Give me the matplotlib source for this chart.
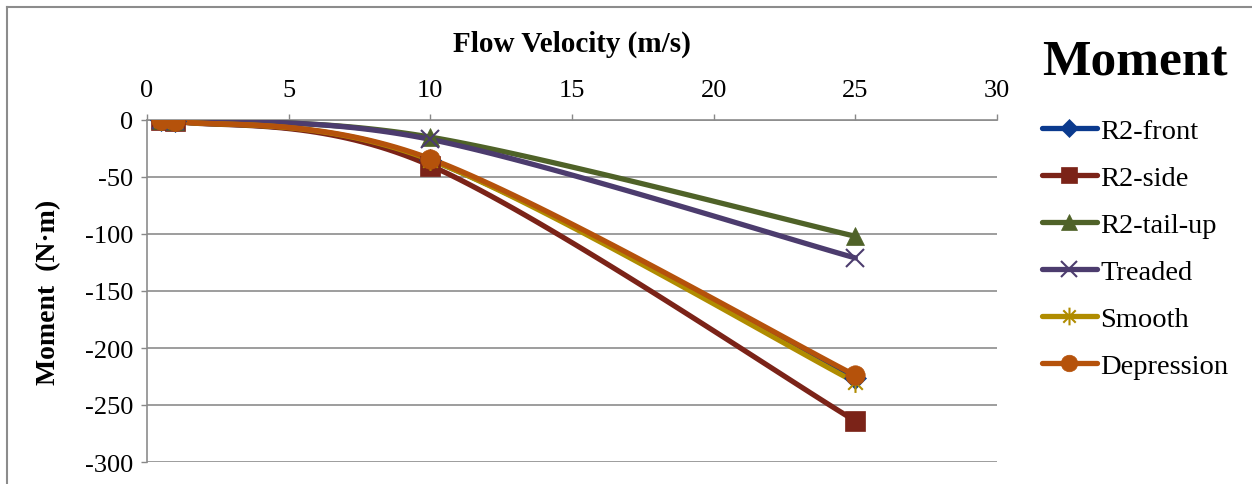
import numpy as np
import matplotlib
matplotlib.use('Agg')
from matplotlib import pyplot as plt
from matplotlib.lines import Line2D
from matplotlib.path import Path

# data
velocity = [0.5, 1, 10, 25]
r2_front = [-0.3, -1, -35, -226]
r2_side = [-0.3, -1, -40, -264]
r2_tail_up = [-0.2, -0.5, -15, -102]
treaded = [-0.2, -0.5, -17, -121]
smooth = [-0.3, -1, -35, -230]
depression = [-0.3, -1, -34, -224]

names = ['R2-front', 'R2-side', 'R2-tail-up', 'Treaded', 'Smooth', 'Depression']
series = [r2_front, r2_side, r2_tail_up, treaded, smooth, depression]
colors = ['#0b3a8e', '#7b2318', '#4f6228', '#4c3c6e', '#b08c00', '#b5520b']

# excel style star: vertical bar plus an x
star = Path([(0, -1), (0, 1), (-0.7, -0.7), (0.7, 0.7), (-0.7, 0.7), (0.7, -0.7)],
            [Path.MOVETO, Path.LINETO, Path.MOVETO, Path.LINETO, Path.MOVETO, Path.LINETO])
markers = ['D', 's', '^', 'x', star, 'o']
msizes = [11, 14, 13, 13, 15, 14]

plt.rcParams['font.family'] = ['Liberation Serif', 'DejaVu Serif']
plt.rcParams['axes.unicode_minus'] = False


def excel_smooth(x, y, n=40):
    # bezier smoothing like the "smoothed line" option in Excel
    p = np.column_stack([x, y]).astype(float)
    ext = np.vstack([p[0], p, p[-1]])
    out = []
    for i in range(len(p) - 1):
        p0, p1, p2, p3 = ext[i], ext[i + 1], ext[i + 2], ext[i + 3]
        c1 = p1 + (p2 - p0) / 6.0
        c2 = p2 - (p3 - p1) / 6.0
        c1[0] = np.clip(c1[0], p1[0], p2[0])
        c2[0] = np.clip(c2[0], p1[0], p2[0])
        t = np.linspace(0, 1, n)[:, None]
        seg = (1 - t) ** 3 * p1 + 3 * (1 - t) ** 2 * t * c1 + 3 * (1 - t) * t ** 2 * c2 + t ** 3 * p2
        out.append(seg)
    out = np.vstack(out)
    return out[:, 0], out[:, 1]


fig = plt.figure(figsize=(12.52, 4.85), dpi=100)
ax = fig.add_axes([147 / 1252, 1 - 463 / 485, 850 / 1252, 342 / 485])

handles = []
for name, vals, c, m, ms in zip(names, series, colors, markers, msizes):
    sx, sy = excel_smooth(velocity, vals)
    ax.plot(sx, sy, color=c, lw=3.8, solid_capstyle='round', zorder=3)
    thin = m is star or m == 'x'
    mew = 1.5 if thin else 0.5
    ax.plot(velocity, vals, ls='none', marker=m, ms=ms, color=c, mec=c, mew=mew, zorder=4)
    handles.append(Line2D([], [], color=c, lw=3.8, marker=m, ms=ms * 0.85, mec=c, mew=mew,
                          solid_capstyle='round'))

ax.set_xlim(0, 30)
ax.set_ylim(-300, 0)
ax.set_xticks(np.arange(0, 31, 5))
ax.set_yticks(np.arange(-300, 1, 50))
ax.xaxis.tick_top()
ax.xaxis.set_label_position('top')
ax.tick_params(axis='both', labelsize=19, colors='#888888', labelcolor='black', length=4, width=1)
ax.tick_params(axis='x', pad=10)
ax.tick_params(axis='y', pad=6)
ax.grid(axis='y', color='#8c8c8c', lw=1.2)
ax.set_axisbelow(True)
for s in ['right', 'bottom']:
    ax.spines[s].set_visible(False)
for s in ['left', 'top']:
    ax.spines[s].set_color('#8c8c8c')
    ax.spines[s].set_linewidth(1.2)

ax.set_xlabel('Flow Velocity (m/s)', fontsize=21, fontweight='bold', labelpad=20)
ax.set_ylabel('Moment  (N·m)', fontsize=20, fontweight='bold', labelpad=17)

leg = fig.legend(handles, names, loc='upper left', bbox_to_anchor=(1016 / 1252, 1 - 14 / 485),
                 frameon=False, fontsize=20.5, handlelength=1.95, handletextpad=0.1,
                 labelspacing=0.74, title='Moment',
                 title_fontproperties={'size': 37, 'weight': 'bold'})
leg._legend_box.sep = 24

# outer chart border (cropped on the right and bottom)
fig.add_artist(Line2D([7 / 1252, 7 / 1252], [0, 1 - 8 / 485], color='#8c8c8c', lw=1.5))
fig.add_artist(Line2D([7 / 1252, 1], [1 - 8 / 485, 1 - 8 / 485], color='#8c8c8c', lw=1.5))

fig.savefig('out.png', dpi=100)
